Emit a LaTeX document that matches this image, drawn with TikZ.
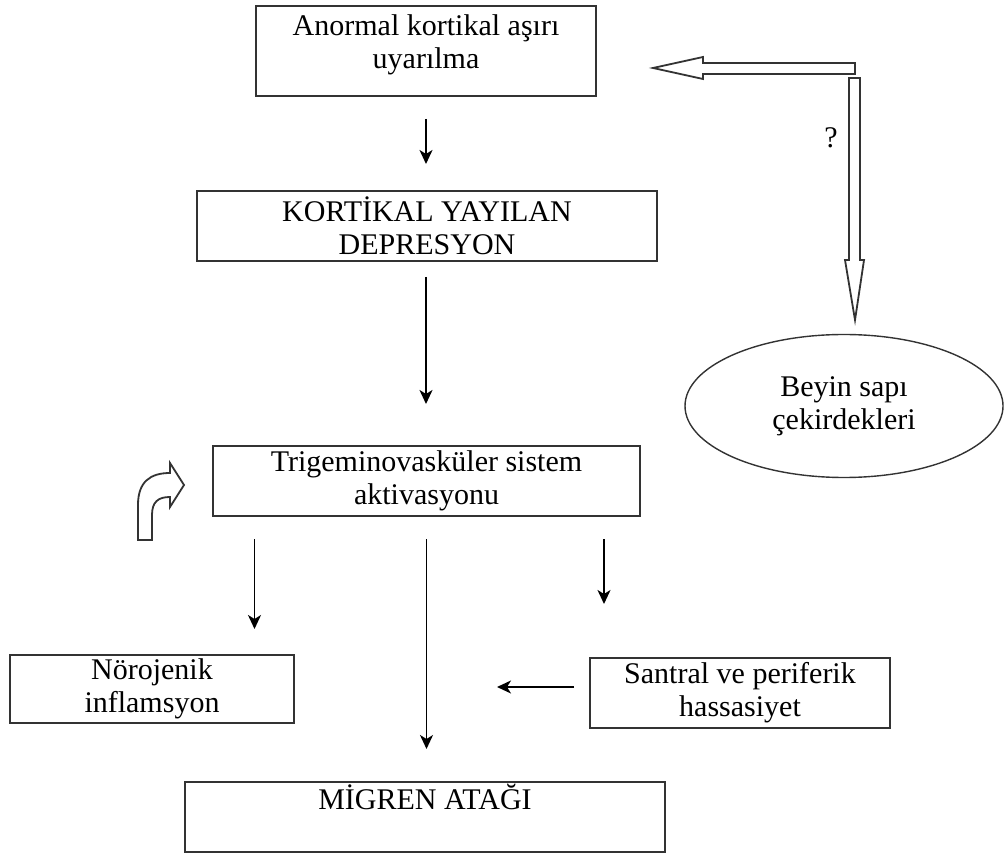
\documentclass[tikz,border=0pt]{standalone}
\usepackage{fontspec}
\setmainfont{Liberation Serif}
\usetikzlibrary{arrows.meta}
\usetikzlibrary{positioning}
\usetikzlibrary{shapes.geometric}

\begin{document}
\begin{tikzpicture}[x=0.5pt, y=-0.5pt]
    \definecolor{my_line}{HTML}{333333}
    \tikzstyle{every node}=[font=\fontsize{15}{16.5}\selectfont, align=center, inner sep=0pt]
    \tikzstyle{box}=[rectangle, draw=my_line, line width=1pt]
    \tikzstyle{arr}=[-{Stealth[length=7pt, width=6.5pt, inset=2pt]}, line width=0.9pt]
    \tikzstyle{hollow}=[draw=my_line, line width=0.9pt, fill=white]
    \useasboundingbox (0,0) rectangle (1004,854);

    \node[box, minimum width=170pt, minimum height=45pt] (anormal) at (426,51) {};
    \node[below=4.5pt of anormal.north] (anormal-text) {Anormal kortikal aşırı\\uyarılma};
    \node[box, minimum width=230pt, minimum height=35pt] (kortikal) at (427,226) {KORTİKAL YAYILAN\\DEPRESYON};
    \node[box, minimum width=213.5pt, minimum height=35pt] (trigem) at (426.5,481) {Trigeminovasküler sistem\\aktivasyonu};
    \node[box, minimum width=142pt, minimum height=34pt] (norojenik) at (152,689) {Nörojenik\\inflamsyon};
    \node[box, minimum width=150pt, minimum height=35pt] (santral) at (740,693) {Santral ve periferik\\hassasiyet};
    \node[box, minimum width=240pt, minimum height=35pt] (migren) at (425,817) {};
    \node[anchor=base] (migren-text) at (425,809) {MİGREN ATAĞI};
    \node[ellipse, draw=my_line, line width=0.7pt, minimum width=159pt, minimum height=71.5pt] (beyin) at (844,406) {Beyin sapı\\çekirdekleri};
    \node (soru) at (831,138) {?};

    % hollow arrows
    \draw[hollow] (855,63) -- (703,63) -- (703,57) -- (653,68) -- (703,79) -- (703,74) -- (855,74) -- cycle;
    \draw[hollow] (849,78) -- (849,260) -- (845,260) -- (855,320) -- (864,260) -- (860,260) -- (860,78) -- cycle;
    \draw[hollow] (138,540) -- (138,505) .. controls (138,482) and (150,473) .. (170,473) -- (170,463) -- (184,485)
        -- (170,507) -- (170,497) .. controls (158,497) and (152,502) .. (152,515) -- (152,540) -- cycle;

    \draw[arr, shorten <=11pt, shorten >=13pt] (anormal.south) -- (anormal.south |- kortikal.north);
    \draw[arr, shorten <=7.5pt, shorten >=20.5pt] (anormal.south |- kortikal.south) -- (anormal.south |- trigem.north);
    \draw[arr, shorten <=11pt, shorten >=12.5pt] ([xshift=-86pt]trigem.south) -- ([xshift=-86pt]trigem.south |- norojenik.north);
    \draw[arr, shorten <=11pt, shorten >=16pt] (trigem.south) -- (trigem.south |- migren.north);
    \draw[arr, shorten <=11pt, shorten >=26.5pt] ([xshift=88.75pt]trigem.south) -- ([xshift=88.75pt]trigem.south |- santral.north);
    \coordinate (mid) at (425,687);
    \draw[arr, shorten <=7.5pt, shorten >=36pt] (santral.west |- mid) -- (mid);
\end{tikzpicture}
\end{document}
